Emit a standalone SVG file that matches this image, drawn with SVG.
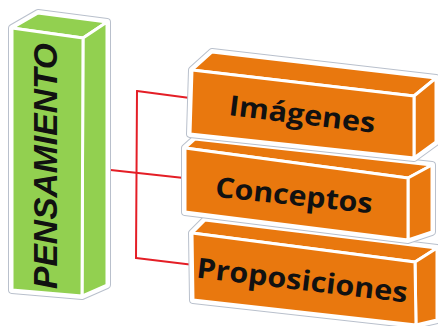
<svg xmlns="http://www.w3.org/2000/svg" width="438" height="326" viewBox="0 0 438 326">
<style>
.halo{fill:#fff;stroke:#b9c0cc;stroke-width:8;stroke-linejoin:round}
.halo2{fill:#fff;stroke:#fff;stroke-width:6;stroke-linejoin:round}
.g{fill:#92D050;stroke:#fff;stroke-width:3;stroke-linejoin:round}
.o{fill:#E9780E;stroke:#fff;stroke-width:3;stroke-linejoin:round}
.lbl{font-family:"Open Sans","Liberation Sans",sans-serif;font-weight:bold;font-size:28px;fill:#111;text-anchor:middle}
.conn{fill:none;stroke:#E41E26;stroke-width:2;stroke-linecap:round;stroke-linejoin:round}
</style>
<rect width="438" height="326" fill="#fff"/>
<g id="connectors">
<path class="conn" d="M83,167 L184,178"/>
<path class="conn" d="M137,91 L136,258"/>
<path class="conn" d="M137,91 L190,98"/>
<path class="conn" d="M136,258 L194,265"/>
</g>
<g id="pensamiento">
<polygon class="halo" points="12,28 38,13 107,22 107,285 82,296 12,290"/>
<polygon class="halo2" points="12,28 38,13 107,22 107,285 82,296 12,290"/>
<polygon class="g" points="12,28 38,13 107,22 83,38"/>
<polygon class="g" points="83,38 107,22 107,285 82,296"/>
<polygon class="g" points="12,28 83,38 82,296 12,290"/>
<text transform="translate(57,166) rotate(-90)" style="font-family:'Liberation Sans',sans-serif;font-weight:bold;font-style:italic;font-size:33px;fill:#111;text-anchor:middle" textLength="246" lengthAdjust="spacingAndGlyphs">PENSAMIENTO</text>
</g>
<g id="proposiciones">
<polygon class="halo" points="192,233 205,220 437,248 437,320 416,325 193,300"/>
<polygon class="halo2" points="192,233 205,220 437,248 437,320 416,325 193,300"/>
<polygon class="o" points="192,233 205,220 437,248 415,262"/>
<polygon class="o" points="415,262 437,248 437,320 416,325"/>
<polygon class="o" points="192,233 415,262 416,325 193,300"/>
<text class="lbl" transform="translate(301,290) rotate(6.8)" textLength="212" lengthAdjust="spacingAndGlyphs">Proposiciones</text>
</g>
<g id="conceptos">
<polygon class="halo" points="185,148 195,139 432,165 432,232 408,240 185,212"/>
<polygon class="halo2" points="185,148 195,139 432,165 432,232 408,240 185,212"/>
<polygon class="o" points="185,148 195,139 432,165 408,178"/>
<polygon class="o" points="408,178 432,165 432,232 408,240"/>
<polygon class="o" points="185,148 408,178 408,240 185,212"/>
<text class="lbl" transform="translate(293,205) rotate(6)" textLength="158" lengthAdjust="spacingAndGlyphs">Conceptos</text>
</g>
<g id="imagenes">
<polygon class="halo" points="192,70 212,52 436,78 436,142 414,158 190,134"/>
<polygon class="halo2" points="192,70 212,52 436,78 436,142 414,158 190,134"/>
<polygon class="o" points="192,70 212,52 436,78 414,96"/>
<polygon class="o" points="414,96 436,78 436,142 414,158"/>
<polygon class="o" points="192,70 414,96 414,158 190,134"/>
<text class="lbl" transform="translate(301,124) rotate(7)" textLength="147" lengthAdjust="spacingAndGlyphs">Imágenes</text>
</g>
</svg>
